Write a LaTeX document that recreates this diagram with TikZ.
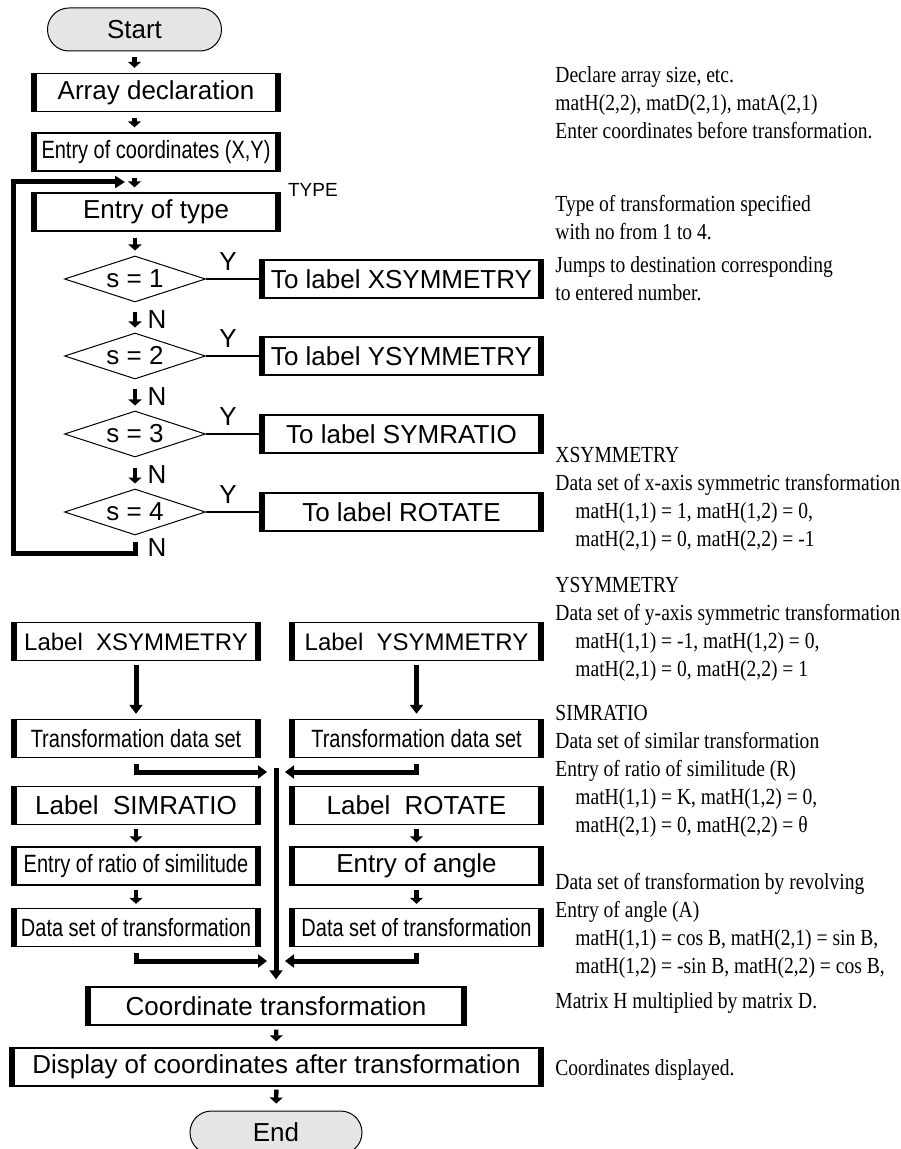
\documentclass[tikz,border=0pt]{standalone}
\usepackage{fontspec}
\setmainfont{Liberation Serif}
\setsansfont{Liberation Sans}
\newfontfamily\slimsans[FakeStretch=0.8]{Liberation Sans}
\newfontfamily\remarkserif[FakeStretch=0.85]{Liberation Serif}
\usetikzlibrary{arrows.meta,shapes.geometric}

\newcommand{\chartfont}{\sffamily\fontsize{13}{15}\selectfont}
\newcommand{\labelfont}{\sffamily\fontsize{12}{14}\selectfont}
\newcommand{\slimfont}{\slimsans\fontsize{12.5}{15}\selectfont}
\newcommand{\tagfont}{\sffamily\fontsize{9.5}{11}\selectfont}
\newcommand{\remarkfont}{\remarkserif\fontsize{11.5}{14}\selectfont}

\tikzset{
  proc/.style={draw, line width=0.7pt, inner sep=0pt, font=\chartfont,
    minimum width=124pt, minimum height=19pt,
    path picture={
      \fill (path picture bounding box.south west) rectangle ([xshift=2.5pt]path picture bounding box.north west);
      \fill ([xshift=-2.5pt]path picture bounding box.south east) rectangle (path picture bounding box.north east);}},
  term/.style={draw, line width=0.5pt, fill=gray!20, rounded corners=10.7pt, inner sep=0pt,
    font=\chartfont, minimum width=87pt, minimum height=21.5pt},
  decide/.style={draw, diamond, aspect=3, line width=0.5pt, inner sep=0pt,
    minimum width=70.5pt, minimum height=23pt, font=\chartfont},
  flow/.style={line width=2.2pt, -{Triangle[width=6.5pt,length=3pt]}, shorten <=3pt, shorten >=2.5pt},
  bigflow/.style={line width=2.5pt, -{Triangle[width=6.5pt,length=4.5pt]}},
  back/.style={line width=2.5pt, -{Triangle[width=6pt,length=5pt]}},
  yes/.style={line width=0.6pt},
  tag/.style={font=\chartfont, inner sep=0pt},
  remark/.style={font=\remarkfont, align=left, inner sep=0pt, anchor=west},
}

\begin{document}
\begin{tikzpicture}[x=0.5pt,y=-0.5pt]
  \useasboundingbox (0,0) rectangle (900,1149);

  % upper column
  \node[term] (start) at (134.5,29.5) {Start};
  \node[proc] (decl) at (156,92.5) {Array declaration};
  \node[proc, font=\slimfont] (coords) at (156,152) {Entry of coordinates (X,Y)};
  \node[proc] (type) at (156,212) {Entry of type};
  \node[font=\tagfont, inner sep=0pt, anchor=base west] (typetag) at ([xshift=3.5pt,yshift=-2pt]type.north east) {TYPE};

  \node[decide] (s1) at (135,279) {s = 1};
  \node[decide] (s2) at (135,356) {s = 2};
  \node[decide] (s3) at (135,434) {s = 3};
  \node[decide] (s4) at (135,512) {s = 4};

  \node[proc, minimum width=141.5pt] (to1) at (401.5,279) {To label XSYMMETRY};
  \node[proc, minimum width=141.5pt] (to2) at (401.5,356) {To label YSYMMETRY};
  \node[proc, minimum width=141.5pt] (to3) at (401.5,434) {To label SYMRATIO};
  \node[proc, minimum width=141.5pt] (to4) at (401.5,512) {To label ROTATE};

  \draw[flow] (start.south) -- (start.south |- decl.north);
  \draw[flow] (decl.south -| start) -- (coords.north -| start);
  \draw[flow] (coords.south -| start) -- (type.north -| start);
  \draw[flow] (type.south -| s1) -- (s1.north);
  \draw[flow, shorten <=5pt] (s1.south) -- (s2.north);
  \draw[flow, shorten <=5pt] (s2.south) -- (s3.north);
  \draw[flow, shorten <=5pt] (s3.south) -- (s4.north);

  \draw[yes] (s1.east) -- (to1.west);
  \draw[yes] (s2.east) -- (to2.west);
  \draw[yes] (s3.east) -- (to3.west);
  \draw[yes] (s4.east) -- (to4.west);

  \node[tag] (y1) at (228,262) {Y};
  \node[tag] (y2) at (228,339) {Y};
  \node[tag] (y3) at (228,417) {Y};
  \node[tag] (y4) at (228,495) {Y};
  \node[tag] (n1) at (157,320) {N};
  \node[tag] (n2) at (157,397) {N};
  \node[tag] (n3) at (157,475) {N};
  \node[tag] (n4) at (157,548) {N};

  % back to entry of type
  \coordinate (corner) at (13,553);
  \coordinate (entry) at (125,182);
  \draw[back, shorten <=3pt] (s4.south) |- (corner) |- (entry);

  % lower part
  \node[proc, font=\labelfont] (lx) at (136,641.5) {Label~~XSYMMETRY};
  \node[proc, font=\labelfont, minimum width=126.5pt] (ly) at (416.5,641.5) {Label~~YSYMMETRY};
  \node[proc, font=\slimfont] (tx) at (136,738.5) {Transformation data set};
  \node[proc, font=\slimfont, minimum width=126.5pt] (ty) at (416.5,738.5) {Transformation data set};
  \node[proc] (ls) at (136,805.5) {Label~~SIMRATIO};
  \node[proc, minimum width=126.5pt] (lr) at (416.5,805.5) {Label~~ROTATE};
  \node[proc, font=\slimfont] (es) at (136,866) {Entry of ratio of similitude};
  \node[proc, minimum width=126.5pt] (ea) at (416.5,866) {Entry of angle};
  \node[proc, font=\slimfont] (ds) at (136,927.5) {Data set of transformation};
  \node[proc, font=\slimfont, minimum width=126.5pt] (da) at (416.5,927.5) {Data set of transformation};
  \node[proc, minimum width=190pt] (ct) at (276,1006) {Coordinate transformation};
  \node[proc, minimum width=266.5pt] (disp) at (276.5,1067) {Display of coordinates after transformation};
  \node[term, minimum width=86pt] (stop) at (276,1132.5) {End};

  \draw[bigflow, shorten <=2pt, shorten >=2.5pt] (lx) -- (tx);
  \draw[bigflow, shorten <=2pt, shorten >=2.5pt] (ly) -- (ty);
  \draw[flow, shorten <=2pt, shorten >=2pt] (ls) -- (es);
  \draw[flow, shorten <=2pt, shorten >=2pt] (lr) -- (ea);
  \draw[flow, shorten <=2pt, shorten >=2pt] (es) -- (ds);
  \draw[flow, shorten <=2pt, shorten >=2pt] (ea) -- (da);

  \coordinate (spine) at (276,768);
  \coordinate (mid1) at (276,772);
  \coordinate (mid2) at (276,961);
  \draw[bigflow] ([yshift=-3pt]tx.south) |- ([xshift=-4.5pt]mid1);
  \draw[bigflow] ([yshift=-3pt]ty.south) |- ([xshift=4.5pt]mid1);
  \draw[bigflow] ([yshift=-3pt]ds.south) |- ([xshift=-4.5pt]mid2);
  \draw[bigflow] ([yshift=-3pt]da.south) |- ([xshift=4.5pt]mid2);
  \draw[bigflow, shorten >=3.5pt] (spine) -- (ct.north);
  \draw[flow, shorten <=2pt, shorten >=3pt] (ct) -- (disp);
  \draw[flow, shorten <=1.5pt, shorten >=3.5pt] (disp) -- (stop);

  % remarks
  \node[remark] (r1) at (555,103) {Declare array size, etc.\\matH(2,2), matD(2,1), matA(2,1)\\Enter coordinates before transformation.};
  \node[remark] (r2) at (555,217.5) {Type of transformation specified\\with no from 1 to 4.};
  \node[remark] (r3) at (555,279) {Jumps to destination corresponding\\to entered number.};
  \node[remark] (r4) at (555,499) {XSYMMETRY\\Data set of x-axis symmetric transformation\\\hspace*{10pt}matH(1,1) = 1, matH(1,2) = 0,\\\hspace*{10pt}matH(2,1) = 0, matH(2,2) = -1};
  \node[remark] (r5) at (555,629) {YSYMMETRY\\Data set of y-axis symmetric transformation\\\hspace*{10pt}matH(1,1) = -1, matH(1,2) = 0,\\\hspace*{10pt}matH(2,1) = 0, matH(2,2) = 1};
  \node[remark] (r6) at (555,771) {SIMRATIO\\Data set of similar transformation\\Entry of ratio of similitude (R)\\\hspace*{10pt}matH(1,1) = K, matH(1,2) = 0,\\\hspace*{10pt}matH(2,1) = 0, matH(2,2) = θ};
  \node[remark] (r7) at (555,926) {Data set of transformation by revolving\\Entry of angle (A)\\\hspace*{10pt}matH(1,1) = cos B, matH(2,1) = sin B,\\\hspace*{10pt}matH(1,2) = -sin B, matH(2,2) = cos B,};
  \node[remark] (r8) at (555,1003) {Matrix H multiplied by matrix D.};
  \node[remark] (r9) at (555,1070) {Coordinates displayed.};
\end{tikzpicture}
\end{document}
